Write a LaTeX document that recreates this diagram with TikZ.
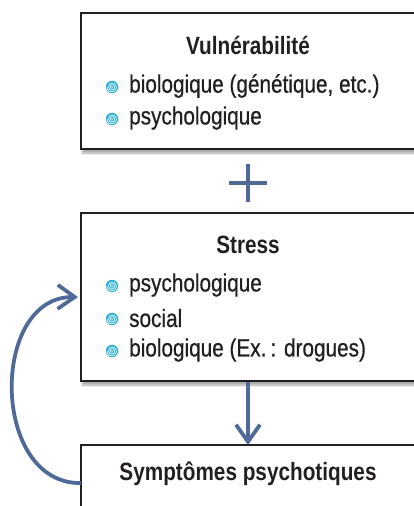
\documentclass[tikz,border=0pt]{standalone}
\usepackage{fontspec}
\setmainfont{Liberation Sans}[FakeStretch=0.83]
\usetikzlibrary{calc,positioning,arrows.meta,shadows.blur}

\definecolor{fleche}{HTML}{4F6A99}
\definecolor{puce}{HTML}{1FAEDD}
\definecolor{encre}{HTML}{231F20}

\tikzset{
  boite/.style={draw=encre, line width=2.2pt, fill=white, anchor=north west,
    blur shadow={shadow xshift=1pt, shadow yshift=-4pt, shadow blur steps=6, shadow opacity=35}},
  titre/.style={font=\fontsize{25}{28}\selectfont\bfseries, text=encre},
  item/.style={font=\fontsize{25}{28}\selectfont\addfontfeatures{FakeBold=0.6}, text=encre, anchor=west, inner sep=0pt},
  lien/.style={draw=fleche, line width=3.8pt},
  pointe/.style={-{Straight Barb[length=17pt,width=24pt,line width=3.8pt]}},
  spirale/.pic={
    \fill[puce] (0,0) circle (6.2);
    \draw[white, line width=0.7] plot[domain=0:900, samples=60, smooth] ({\x}:{0.6+\x/900*4.6});
  }
}

\begin{document}
\begin{tikzpicture}[x=1pt, y=-1pt]
  \useasboundingbox (0,0) rectangle (414,506);

  \node[boite, minimum width=360, minimum height=136] (vuln) at (80,12) {};
  \node[titre] (vulntitre) at (248,45) {Vulnérabilité};
  \node[item] (vuln1) at (129,86) {biologique (génétique, etc.)};
  \node[item] (vuln2) at (129,118) {psychologique};
  \pic at (112,87) {spirale};
  \pic at (112,119) {spirale};

  \draw[lien] (229,183) -- (267,183);
  \draw[lien] (248,164) -- (248,202);

  \node[boite, minimum width=360, minimum height=168] (stress) at (80,212) {};
  \node[titre] (stresstitre) at (248,245) {Stress};
  \node[item] (stress1) at (129,285) {psychologique};
  \node[item] (stress2) at (129,318) {social};
  \node[item] (stress3) at (129,350) {biologique (Ex.\,: drogues)};
  \pic at (112,286) {spirale};
  \pic at (112,319) {spirale};
  \pic at (112,351) {spirale};

  \node[boite, minimum width=360, minimum height=76] (sympt) at (80,444) {};
  \node[titre] (sympttitre) at (248,474) {Symptômes psychotiques};

  \draw[lien, pointe] (stress.south -| stresstitre) -- ([yshift=-1pt]sympt.north -| sympttitre);
  \draw[lien, pointe] ([xshift=1pt]sympt.west) .. controls (-10,484) and (-10,296) .. ([xshift=-2pt]stress.west);
\end{tikzpicture}
\end{document}
